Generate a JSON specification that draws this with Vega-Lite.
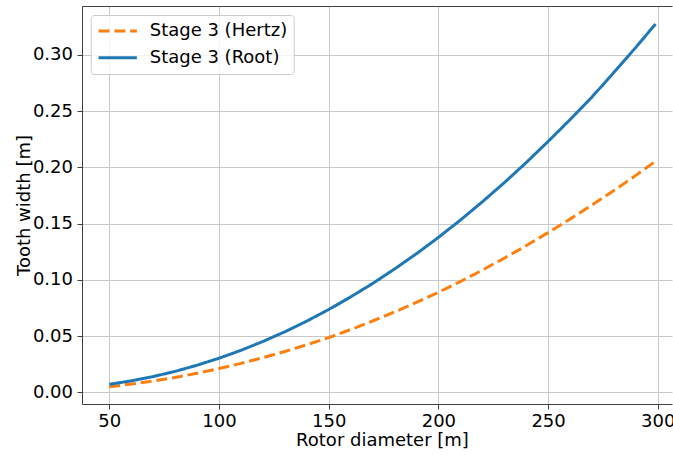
{
  "$schema": "https://vega.github.io/schema/vega-lite/v6.json",
  "width": 590,
  "height": 398,
  "autosize": {"type": "none"},
  "padding": {"left": 82, "top": 6, "right": 1, "bottom": 51},
  "config": {
    "view": {"stroke": null},
    "font": "DejaVu Sans",
    "axis": {
      "labelFont": "DejaVu Sans",
      "titleFont": "DejaVu Sans",
      "labelFontSize": 18,
      "titleFontSize": 18,
      "labelColor": "#000000",
      "titleColor": "#000000",
      "titleFontWeight": "normal",
      "domainColor": "#404040",
      "domainWidth": 1,
      "tickColor": "#404040",
      "tickWidth": 1,
      "tickSize": 5,
      "gridColor": "#c8c8c8",
      "gridWidth": 1
    },
    "legend": {
      "labelFont": "DejaVu Sans",
      "labelFontSize": 18,
      "labelColor": "#000000"
    }
  },
  "data": {
    "values": [
      {"d": 50, "w": 0.0050, "series": "Stage 3 (Hertz)"},
      {"d": 60, "w": 0.0073, "series": "Stage 3 (Hertz)"},
      {"d": 70, "w": 0.0100, "series": "Stage 3 (Hertz)"},
      {"d": 80, "w": 0.0132, "series": "Stage 3 (Hertz)"},
      {"d": 90, "w": 0.0169, "series": "Stage 3 (Hertz)"},
      {"d": 100, "w": 0.0211, "series": "Stage 3 (Hertz)"},
      {"d": 110, "w": 0.0257, "series": "Stage 3 (Hertz)"},
      {"d": 120, "w": 0.0308, "series": "Stage 3 (Hertz)"},
      {"d": 130, "w": 0.0363, "series": "Stage 3 (Hertz)"},
      {"d": 140, "w": 0.0423, "series": "Stage 3 (Hertz)"},
      {"d": 150, "w": 0.0486, "series": "Stage 3 (Hertz)"},
      {"d": 160, "w": 0.0558, "series": "Stage 3 (Hertz)"},
      {"d": 170, "w": 0.0634, "series": "Stage 3 (Hertz)"},
      {"d": 180, "w": 0.0714, "series": "Stage 3 (Hertz)"},
      {"d": 190, "w": 0.0799, "series": "Stage 3 (Hertz)"},
      {"d": 200, "w": 0.0889, "series": "Stage 3 (Hertz)"},
      {"d": 210, "w": 0.0985, "series": "Stage 3 (Hertz)"},
      {"d": 220, "w": 0.1086, "series": "Stage 3 (Hertz)"},
      {"d": 230, "w": 0.1192, "series": "Stage 3 (Hertz)"},
      {"d": 240, "w": 0.1303, "series": "Stage 3 (Hertz)"},
      {"d": 250, "w": 0.1420, "series": "Stage 3 (Hertz)"},
      {"d": 260, "w": 0.1540, "series": "Stage 3 (Hertz)"},
      {"d": 270, "w": 0.1665, "series": "Stage 3 (Hertz)"},
      {"d": 280, "w": 0.1794, "series": "Stage 3 (Hertz)"},
      {"d": 290, "w": 0.1929, "series": "Stage 3 (Hertz)"},
      {"d": 299, "w": 0.2055, "series": "Stage 3 (Hertz)"},
      {"d": 50, "w": 0.0071, "series": "Stage 3 (Root)"},
      {"d": 60, "w": 0.0102, "series": "Stage 3 (Root)"},
      {"d": 70, "w": 0.0140, "series": "Stage 3 (Root)"},
      {"d": 80, "w": 0.0186, "series": "Stage 3 (Root)"},
      {"d": 90, "w": 0.0241, "series": "Stage 3 (Root)"},
      {"d": 100, "w": 0.0303, "series": "Stage 3 (Root)"},
      {"d": 110, "w": 0.0373, "series": "Stage 3 (Root)"},
      {"d": 120, "w": 0.0452, "series": "Stage 3 (Root)"},
      {"d": 130, "w": 0.0538, "series": "Stage 3 (Root)"},
      {"d": 140, "w": 0.0633, "series": "Stage 3 (Root)"},
      {"d": 150, "w": 0.0736, "series": "Stage 3 (Root)"},
      {"d": 160, "w": 0.0848, "series": "Stage 3 (Root)"},
      {"d": 170, "w": 0.0967, "series": "Stage 3 (Root)"},
      {"d": 180, "w": 0.1096, "series": "Stage 3 (Root)"},
      {"d": 190, "w": 0.1232, "series": "Stage 3 (Root)"},
      {"d": 200, "w": 0.1377, "series": "Stage 3 (Root)"},
      {"d": 210, "w": 0.1531, "series": "Stage 3 (Root)"},
      {"d": 220, "w": 0.1693, "series": "Stage 3 (Root)"},
      {"d": 230, "w": 0.1863, "series": "Stage 3 (Root)"},
      {"d": 240, "w": 0.2042, "series": "Stage 3 (Root)"},
      {"d": 250, "w": 0.2230, "series": "Stage 3 (Root)"},
      {"d": 260, "w": 0.2424, "series": "Stage 3 (Root)"},
      {"d": 270, "w": 0.2625, "series": "Stage 3 (Root)"},
      {"d": 280, "w": 0.2845, "series": "Stage 3 (Root)"},
      {"d": 290, "w": 0.3067, "series": "Stage 3 (Root)"},
      {"d": 299, "w": 0.3275, "series": "Stage 3 (Root)"}
    ]
  },
  "layer": [
    {
      "mark": {"type": "line", "strokeWidth": 3, "clip": true},
      "encoding": {
        "x": {
          "field": "d",
          "type": "quantitative",
          "scale": {"domain": [37.55, 306.5], "nice": false, "zero": false},
          "axis": {
            "orient": "bottom",
            "values": [50, 100, 150, 200, 250, 300],
            "format": "d",
            "labelPadding": 3,
            "title": "Rotor diameter [m]",
            "titleX": 300,
            "titleY": 41,
            "titleAlign": "center",
            "titleAnchor": "start",
            "titleBaseline": "alphabetic",
            "grid": true
          }
        },
        "y": {
          "field": "w",
          "type": "quantitative",
          "scale": {"domain": [-0.0104, 0.3435], "nice": false, "zero": false},
          "axis": {
            "values": [0, 0.05, 0.1, 0.15, 0.2, 0.25, 0.3],
            "format": ".2f",
            "labelPadding": 4.5,
            "title": "Tooth width [m]",
            "titleAngle": -90,
            "titleX": -53,
            "titleY": 199,
            "titleAlign": "center",
            "titleAnchor": "start",
            "titleBaseline": "alphabetic",
            "grid": true
          }
        },
        "color": {
          "field": "series",
          "type": "nominal",
          "scale": {"domain": ["Stage 3 (Hertz)", "Stage 3 (Root)"], "range": ["#ff7f0e", "#1f77b4"]},
          "legend": {
            "orient": "none",
            "legendX": 8.7,
            "legendY": 9,
            "title": null,
            "symbolType": "stroke",
            "symbolSize": 1467,
            "symbolStrokeWidth": 3,
            "clipHeight": 20,
            "rowPadding": 6.7,
            "labelOffset": 11,
            "padding": 6,
            "fillColor": "rgba(255,255,255,0.8)",
            "strokeColor": "#cccccc",
            "cornerRadius": 3
          }
        },
        "strokeDash": {
          "field": "series",
          "type": "nominal",
          "scale": {"domain": ["Stage 3 (Hertz)", "Stage 3 (Root)"], "range": [[11, 4.8], [1, 0]]},
          "legend": {
            "orient": "none",
            "legendX": 8.7,
            "legendY": 9,
            "title": null,
            "symbolType": "stroke",
            "symbolSize": 1467,
            "symbolStrokeWidth": 3,
            "clipHeight": 20,
            "rowPadding": 6.7,
            "labelOffset": 11,
            "padding": 6,
            "fillColor": "rgba(255,255,255,0.8)",
            "strokeColor": "#cccccc",
            "cornerRadius": 3
          }
        }
      }
    },
    {
      "mark": {"type": "line", "opacity": 0},
      "encoding": {
        "x": {
          "field": "d",
          "type": "quantitative",
          "axis": {"orient": "top", "labels": false, "ticks": false, "grid": false, "title": null}
        },
        "y": {"field": "w", "type": "quantitative"}
      }
    }
  ],
  "resolve": {"axis": {"x": "independent"}}
}
